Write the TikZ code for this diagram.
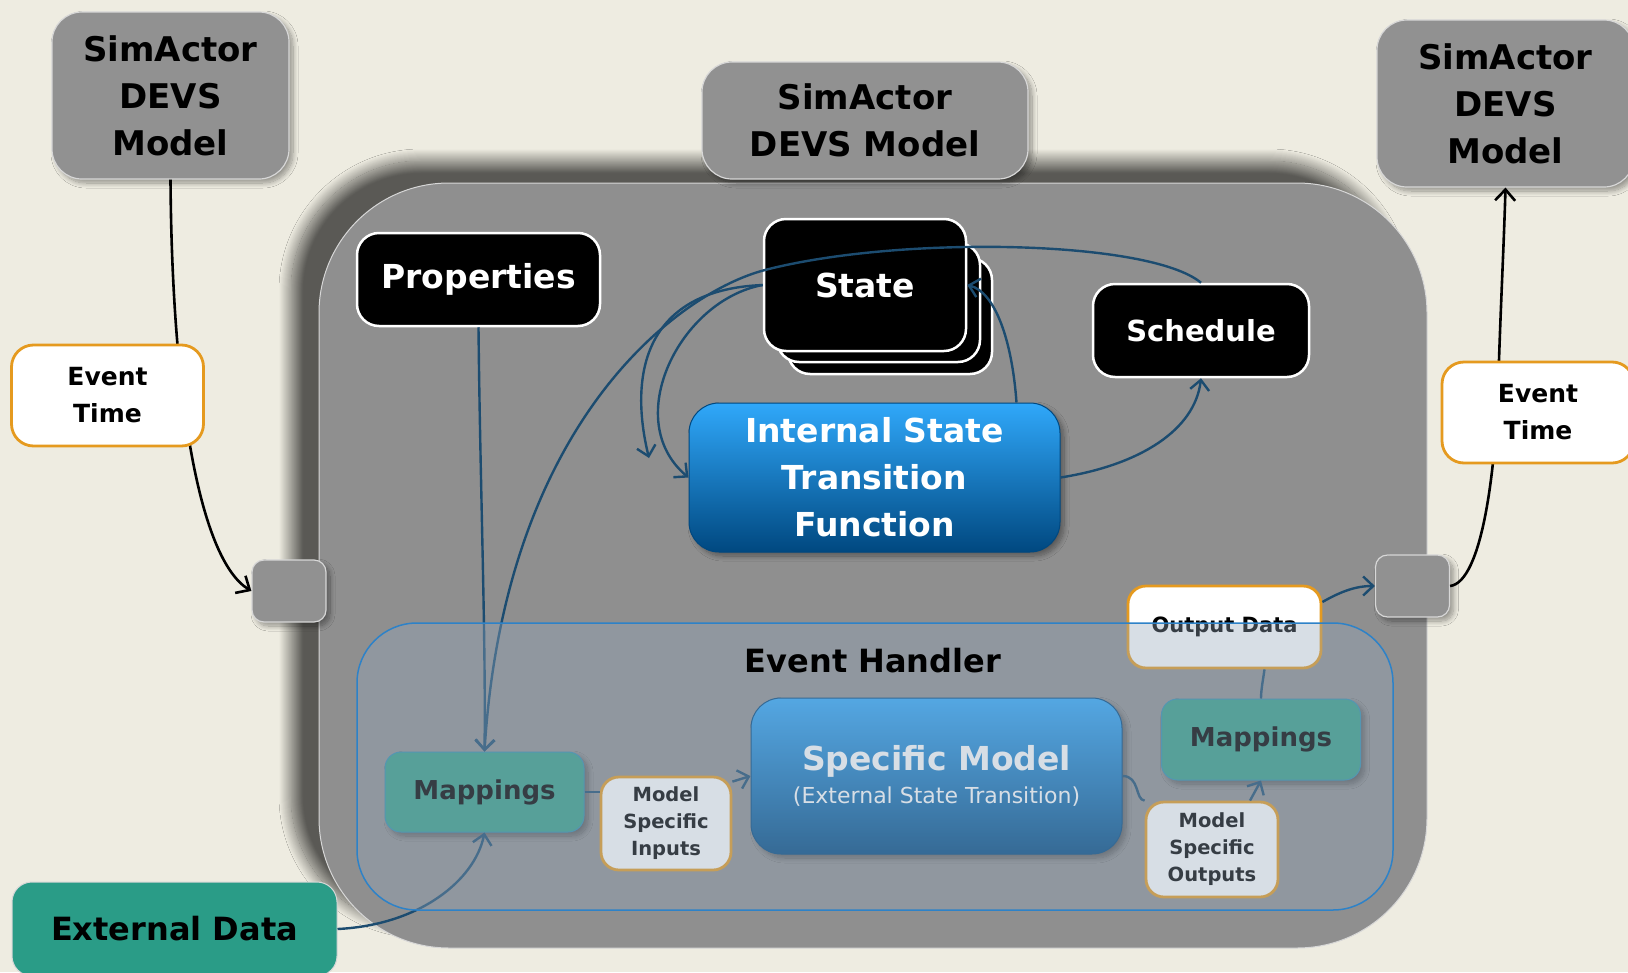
\documentclass[tikz,border=0pt]{standalone}
\usepackage{fontspec}
\setmainfont{DejaVu Sans}
\usetikzlibrary{arrows.meta,shadows.blur,calc}

\definecolor{paper}{RGB}{238,236,225}
\definecolor{boxgray}{RGB}{145,145,145}
\definecolor{bodygray}{RGB}{143,143,143}
\definecolor{edgegray}{RGB}{215,215,215}
\definecolor{amber}{RGB}{229,154,31}
\definecolor{extteal}{RGB}{42,156,135}
\definecolor{mapteal}{RGB}{52,157,134}
\definecolor{wireblue}{RGB}{28,76,112}
\definecolor{panelfill}{RGB}{147,166,187}
\definecolor{panelline}{RGB}{45,130,200}
\definecolor{fnTop}{RGB}{48,168,250}
\definecolor{fnMid}{RGB}{8,128,215}
\definecolor{fnBot}{RGB}{0,72,128}

\tikzset{
  softshadow/.style={blur shadow={shadow xshift=4pt, shadow yshift=-4pt, shadow blur radius=5pt,
    shadow blur steps=12, shadow opacity=38}},
  container/.style={draw=edgegray, line width=1pt, fill=bodygray, rounded corners=130pt,
    minimum width=1108pt, minimum height=765pt, inner sep=0pt,
    blur shadow={shadow xshift=-28pt, shadow yshift=22pt, shadow blur radius=12pt,
      shadow blur steps=24, shadow opacity=62}},
  devsbox/.style={draw=edgegray, line width=1.2pt, fill=boxgray, rounded corners=30pt, align=center,
    inner sep=0pt, font=\bfseries\fontsize{34}{47}\selectfont, softshadow},
  evtbox/.style={draw=amber, line width=2.8pt, fill=white, rounded corners=22pt, align=center,
    inner sep=0pt, minimum width=192pt, minimum height=101pt, font=\bfseries\fontsize{25}{37}\selectfont},
  portbox/.style={draw=edgegray, line width=1.2pt, fill=boxgray, rounded corners=12pt,
    minimum width=74pt, minimum height=62pt, inner sep=0pt, softshadow},
  blackbox/.style={draw=white, line width=2.5pt, fill=black, text=white, rounded corners=22pt,
    inner sep=0pt, font=\bfseries\fontsize{33}{40}\selectfont},
  fnbox/.style={draw=fnBot, line width=1pt, top color=fnTop, middle color=fnMid, bottom color=fnBot,
    text=white, rounded corners=30pt, align=center, inner sep=0pt,
    font=\bfseries\fontsize{33}{47}\selectfont, softshadow},
  mapbox/.style={draw=panelline!60!mapteal, line width=1pt, fill=mapteal, rounded corners=16pt,
    minimum width=199pt, minimum height=80pt, inner sep=0pt,
    font=\bfseries\fontsize{26}{30}\selectfont, softshadow},
  tagbox/.style={draw=amber, line width=2.8pt, fill=white, rounded corners=18pt, align=center,
    inner sep=0pt, font=\bfseries\fontsize{19.5}{27}\selectfont},
  panel/.style={fill=panelfill, fill opacity=0.37, draw=panelline, draw opacity=1, line width=1.5pt,
    rounded corners=60pt, minimum width=1036pt, minimum height=287pt, inner sep=0pt},
  blk/.style={draw=black, line width=2.6pt, -{Straight Barb[length=11pt,width=20pt]}},
  link/.style={draw=wireblue, line width=2.4pt},
  linkarrow/.style={link, -{Straight Barb[length=10pt,width=19pt]}}
}

\begin{document}
\begin{tikzpicture}[x=1pt,y=-1pt]
\fill[paper] (0,0) rectangle (1628,972);
\useasboundingbox (0,0) rectangle (1628,972);

% the model container
\node[container] (body) at (873,565.5) {};

% ports on the container edge
\node[portbox] (p1) at (289,591) {};
\node[portbox] (p2) at (1412.5,586) {};

% neighbouring DEVS models and the event links between them
\node[devsbox, minimum width=237pt, minimum height=167pt] (sa1) at (170.5,95.5) {SimActor\\DEVS\\Model};
\node[devsbox, minimum width=326pt, minimum height=117pt] (sa2) at (865,120.5) {SimActor\\DEVS Model};
\node[devsbox, minimum width=257pt, minimum height=167pt] (sa3) at (1505.5,103.5) {SimActor\\DEVS\\Model};

\draw[blk] (sa1.south) .. controls (172,400) and (200,560) .. (p1.west);
\draw[blk] (p2.east) .. controls (1482,582) and (1497,470) .. (1499,360)
  .. controls (1501,300) and (1504,240) .. (sa3.south);

\node[evtbox] (et1) at (107.5,395.5) {Event\\Time};
\node[evtbox] (et2) at (1538,412.5) {Event\\Time};

% internal blocks
\node[blackbox, minimum width=243pt, minimum height=93pt] (prop) at (478.5,279.5) {Properties};
\node[blackbox, minimum width=204pt, minimum height=116pt] (state3) at (890,316) {};
\node[blackbox, minimum width=203pt, minimum height=119pt] (state2) at (878.5,302.5) {};
\node[blackbox, minimum width=202pt, minimum height=132pt] (state) at (865,285) {State};
\node[blackbox, minimum width=216pt, minimum height=93pt, font=\bfseries\fontsize{29}{34}\selectfont] (sched) at (1201,330.5) {Schedule};
\node[fnbox, minimum width=371pt, minimum height=149pt] (istf) at (874.5,477.5) {Internal State\\Transition\\Function};

\coordinate (stateDrop) at (649,458);
\coordinate (istfTop) at ([xshift=-44pt]istf.north east);

\draw[linkarrow] (state.west) .. controls (640,290) and (630,380) .. (stateDrop);
\draw[linkarrow] (state.west) .. controls (680,300) and (620,420) .. (istf.west);
\draw[linkarrow] (istfTop) .. controls (1012,340) and (995,292) .. (state.east);
\draw[linkarrow] (istf.east) .. controls (1140,465) and (1195,430) .. (sched.south);

% event handler contents
\node[mapbox] (map1) at (484.5,792) {Mappings};
\node[tagbox, minimum width=130pt, minimum height=93pt] (msi) at (666,823.5) {Model\\Specific\\Inputs};
\node[fnbox, minimum width=371pt, minimum height=156pt, font=\bfseries\fontsize{33}{33}\selectfont] (sm) at (936.5,776)
  {Specific Model\\{\mdseries\fontsize{22}{26}\selectfont (External State Transition)}};
\node[mapbox, minimum height=81pt] (map2) at (1261,739.5) {Mappings};
\node[tagbox, minimum width=132pt, minimum height=95pt] (mso) at (1212,849.5) {Model\\Specific\\Outputs};
\node[tagbox, minimum width=193pt, minimum height=82pt, font=\bfseries\fontsize{21}{26}\selectfont] (od) at (1224.5,627) {Output Data};

\draw[linkarrow] (prop.south) .. controls (480,480) and (486,640) .. (map1.north);
\draw[linkarrow] (sched.north) .. controls (1150,240) and (900,235) .. (765,270)
  .. controls (680,292) and (505,420) .. (map1.north);
\draw[link] (map1.east) -- (map1.east -| msi.west);
\draw[linkarrow] ([yshift=-6pt]msi.north east) -- (sm.west);
\draw[link] (sm.east) .. controls (1140,776) and (1135,800) .. (mso.north west);
\draw[linkarrow] ([xshift=38pt]mso.north) -- (map2.south);
\draw[link] (map2.north) .. controls (1261,690) and (1263,680) .. ([xshift=40pt]od.south);
\draw[linkarrow] ([yshift=25pt]od.east) .. controls (1340,592) and (1355,586) .. (p2.west);

\node[draw=edgegray, line width=1pt, fill=extteal, rounded corners=20pt, inner sep=0pt,
  minimum width=325pt, minimum height=94pt, font=\bfseries\fontsize{32}{38}\selectfont] (ext) at (174.5,929) {External Data};
\draw[linkarrow] (ext.east) .. controls (420,925) and (475,880) .. (map1.south);

% translucent event handler panel
\node[panel] (eh) at (875,766.5) {};
\node[font=\bfseries\fontsize{32}{38}\selectfont, inner sep=0pt] (ehl) at (873,661) {Event Handler};

\end{tikzpicture}
\end{document}
